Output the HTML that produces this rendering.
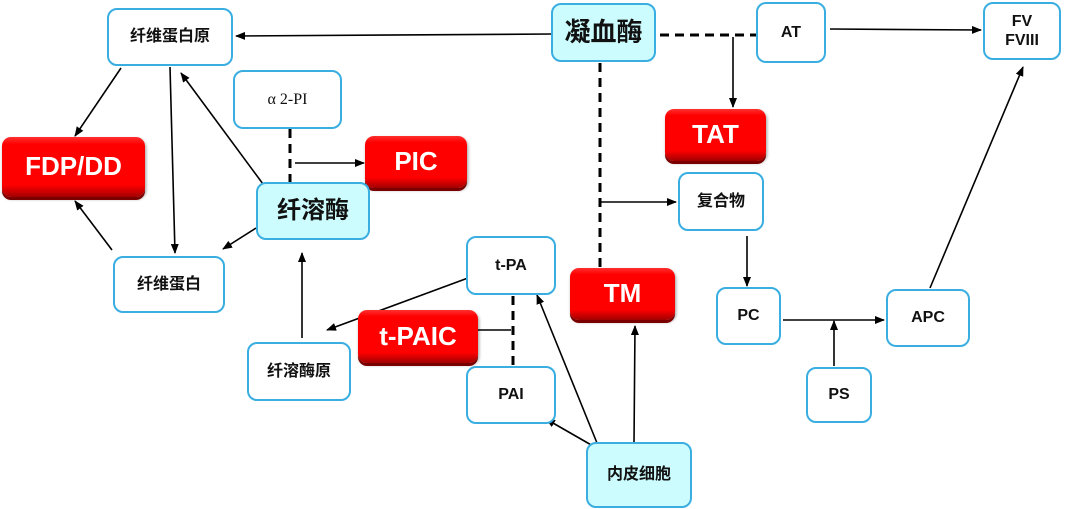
<!DOCTYPE html>
<html><head><meta charset="utf-8"><style>
body{margin:0;width:1080px;height:509px;background:#fff;position:relative;overflow:hidden;font-family:"Liberation Sans","Noto Sans CJK SC",sans-serif;}
.n{position:absolute;box-sizing:border-box;border:2px solid #3aaee0;border-radius:10px;background:#fff;display:flex;align-items:center;justify-content:center;text-align:center;font-weight:bold;font-size:16px;color:#111;line-height:1.2;}
.c{background:#ccfcfe;}
.r{border:none;border-radius:9px;background:linear-gradient(#ff3030 0,#ff0000 12%,#f00 80%,#a00000 100%);color:#fff;box-shadow:0 3px 0 #7a0000,1px 2px 3px rgba(0,0,0,.4);font-size:26px;}
svg{position:absolute;left:0;top:0;}
</style></head><body>
<svg width="1080" height="509">
<defs><marker id="a" markerWidth="10" markerHeight="8" refX="9" refY="4" orient="auto" markerUnits="userSpaceOnUse"><path d="M0,0 L10,4 L0,8 z" fill="#000"/></marker></defs>
<g stroke="#000" stroke-width="1.6" fill="none">
<line x1="551" y1="34" x2="236" y2="36" marker-end="url(#a)"/>
<line x1="733" y1="37" x2="733" y2="107" marker-end="url(#a)"/>
<line x1="830" y1="29" x2="981" y2="30" marker-end="url(#a)"/>
<line x1="600" y1="202" x2="676" y2="202" marker-end="url(#a)"/>
<line x1="747" y1="236" x2="747" y2="286" marker-end="url(#a)"/>
<line x1="783" y1="320" x2="884" y2="320" marker-end="url(#a)"/>
<line x1="834" y1="366" x2="834" y2="321" marker-end="url(#a)"/>
<line x1="930" y1="288" x2="1023" y2="67" marker-end="url(#a)"/>
<line x1="121" y1="68" x2="75" y2="136" marker-end="url(#a)"/>
<line x1="170" y1="67" x2="175" y2="253" marker-end="url(#a)"/>
<line x1="263" y1="184" x2="181" y2="73" marker-end="url(#a)"/>
<line x1="256" y1="228" x2="223" y2="249" marker-end="url(#a)"/>
<line x1="112" y1="250" x2="75" y2="201" marker-end="url(#a)"/>
<line x1="295" y1="163" x2="364" y2="163" marker-end="url(#a)"/>
<line x1="302" y1="338" x2="302" y2="253" marker-end="url(#a)"/>
<line x1="468" y1="278" x2="327" y2="330" marker-end="url(#a)"/>
<line x1="478" y1="330" x2="511" y2="330"/>
<line x1="597" y1="443" x2="537" y2="295" marker-end="url(#a)"/>
<line x1="593" y1="446" x2="546" y2="419" marker-end="url(#a)"/>
<line x1="634" y1="443" x2="635" y2="326" marker-end="url(#a)"/>
</g>
<g stroke="#000" stroke-width="3" stroke-dasharray="9,6" fill="none">
<line x1="660" y1="35" x2="760" y2="35"/>
<line x1="600" y1="63" x2="600" y2="268"/>
<line x1="290" y1="129" x2="290" y2="182"/>
<line x1="513" y1="296" x2="513" y2="366"/>
</g>
</svg>
<div class="n" style="left:107px;top:8px;width:126px;height:58px;">纤维蛋白原</div>
<div class="n c" style="left:551px;top:3px;width:105px;height:59px;font-size:26px;">凝血酶</div>
<div class="n" style="left:756px;top:2px;width:70px;height:61px;">AT</div>
<div class="n" style="left:983px;top:2px;width:78px;height:58px;">FV<br>FVIII</div>
<div class="n" style="left:233px;top:70px;width:109px;height:59px;font-weight:normal;font-family:'Liberation Serif','Noto Serif CJK SC',serif;">α 2-PI</div>
<div class="n r" style="left:365px;top:136px;width:102px;height:52px;">PIC</div>
<div class="n r" style="left:2px;top:137px;width:143px;height:60px;">FDP/DD</div>
<div class="n r" style="left:665px;top:109px;width:101px;height:52px;">TAT</div>
<div class="n" style="left:678px;top:172px;width:86px;height:59px;">复合物</div>
<div class="n c" style="left:256px;top:182px;width:114px;height:58px;font-size:24px;">纤溶酶</div>
<div class="n" style="left:113px;top:256px;width:112px;height:57px;">纤维蛋白</div>
<div class="n" style="left:466px;top:236px;width:90px;height:59px;">t-PA</div>
<div class="n r" style="left:570px;top:268px;width:105px;height:52px;">TM</div>
<div class="n r" style="left:358px;top:310px;width:120px;height:53px;">t-PAIC</div>
<div class="n" style="left:247px;top:342px;width:104px;height:59px;">纤溶酶原</div>
<div class="n" style="left:466px;top:366px;width:90px;height:58px;">PAI</div>
<div class="n c" style="left:586px;top:442px;width:106px;height:66px;">内皮细胞</div>
<div class="n" style="left:716px;top:287px;width:65px;height:58px;">PC</div>
<div class="n" style="left:886px;top:289px;width:84px;height:58px;">APC</div>
<div class="n" style="left:806px;top:367px;width:66px;height:56px;">PS</div>
</body></html>
